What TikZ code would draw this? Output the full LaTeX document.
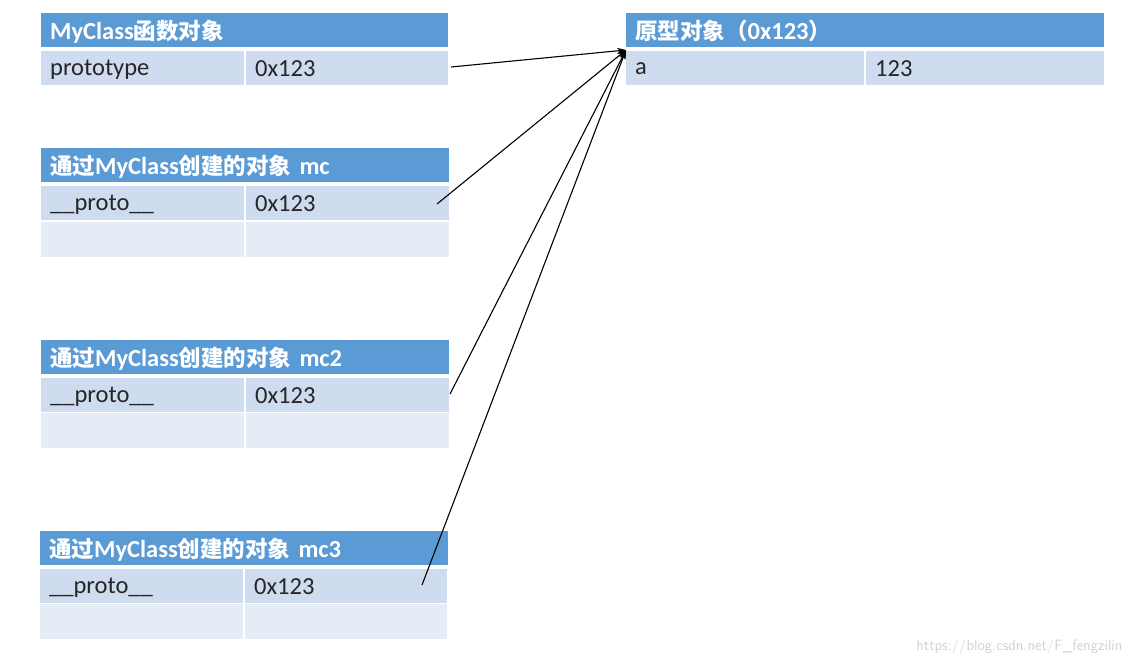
\documentclass[tikz,border=0pt]{standalone}
\usepackage{fontspec}
\setmainfont{Carlito}
\newfontfamily\cjk{Noto Sans CJK SC}
\usetikzlibrary{arrows.meta}
\definecolor{hdr}{HTML}{5B9BD5}
\definecolor{rowa}{HTML}{CFDBEE}
\definecolor{rowb}{HTML}{E6ECF5}
\begin{document}
\begin{tikzpicture}[x=1pt,y=-1pt,
  cellbase/.style={anchor=north west, inner ysep=0pt, inner xsep=9pt, align=left, text depth=0pt},
  hd/.style={cellbase, fill=hdr, text=white, minimum height=34pt, font=\bfseries\fontsize{24.5}{26}\selectfont},
  ra/.style={cellbase, fill=rowa, text=black!85, minimum height=34pt, font=\fontsize{24.5}{26}\selectfont},
  rb/.style={cellbase, fill=rowb, minimum height=35pt},
  link/.style={draw=black, line width=1.1pt, -{Stealth[length=9pt,width=6pt]}}
]
\useasboundingbox (0,0) rectangle (1133,664);

% MyClass function object
\node[hd, text width=389pt] (fh) at (41,13) {MyClass{\cjk\fontsize{22.5}{26}\selectfont 函数对象}};
\node[ra, text width=185pt] (fk) at (41,51) {prototype};
\node[ra, text width=184pt] (fv) at (246,51) {0x123};

% prototype object
\node[hd, text width=460pt] (ph) at (626,13) {{\cjk\fontsize{22.5}{26}\selectfont 原型对象（}0x123{\cjk\fontsize{22.5}{26}\selectfont ）}};
\node[ra, text width=220pt] (pk) at (626,51) {a};
\node[ra, text width=220pt] (pv) at (866,51) {123};
\coordinate (tip) at (626,50);

% mc
\node[hd, text width=390pt] (ah) at (41,148) {{\cjk\fontsize{22.5}{26}\selectfont 通过}MyClass{\cjk\fontsize{22.5}{26}\selectfont 创建的对象} mc};
\node[ra, text width=185pt] (ak) at (41,186) {\_\_proto\_\_};
\node[ra, text width=185pt] (av) at (246,186) {0x123};
\node[rb, text width=185pt] (ae1) at (41,222) {};
\node[rb, text width=185pt] (ae2) at (246,222) {};

% mc2
\node[hd, text width=390pt] (bh) at (41,340) {{\cjk\fontsize{22.5}{26}\selectfont 通过}MyClass{\cjk\fontsize{22.5}{26}\selectfont 创建的对象} mc2};
\node[ra, text width=185pt] (bk) at (41,378) {\_\_proto\_\_};
\node[ra, text width=185pt] (bv) at (246,378) {0x123};
\node[rb, text width=185pt] (be1) at (41,413) {};
\node[rb, text width=185pt] (be2) at (246,413) {};

% mc3
\node[hd, text width=390pt] (ch) at (40,531) {{\cjk\fontsize{22.5}{26}\selectfont 通过}MyClass{\cjk\fontsize{22.5}{26}\selectfont 创建的对象} mc3};
\node[ra, text width=185pt] (ck) at (40,569) {\_\_proto\_\_};
\node[ra, text width=184pt] (cv) at (245,569) {0x123};
\node[rb, text width=185pt] (ce1) at (40,604) {};
\node[rb, text width=184pt] (ce2) at (245,604) {};

% arrow starts
\coordinate (s1) at (451,67);
\coordinate (s2) at (437,204);
\coordinate (s3) at (450,394);
\coordinate (s4) at (422,585);
\draw[link] (s1) -- (tip);
\draw[link] (s2) -- (tip);
\draw[link] (s3) -- (tip);
\draw[link] (s4) -- (tip);

\node[anchor=east, text=black!18, font=\sffamily\fontsize{15}{16}\selectfont] (wm) at (1126,647) {https://blog.csdn.net/F\_fengzilin};
\end{tikzpicture}
\end{document}
